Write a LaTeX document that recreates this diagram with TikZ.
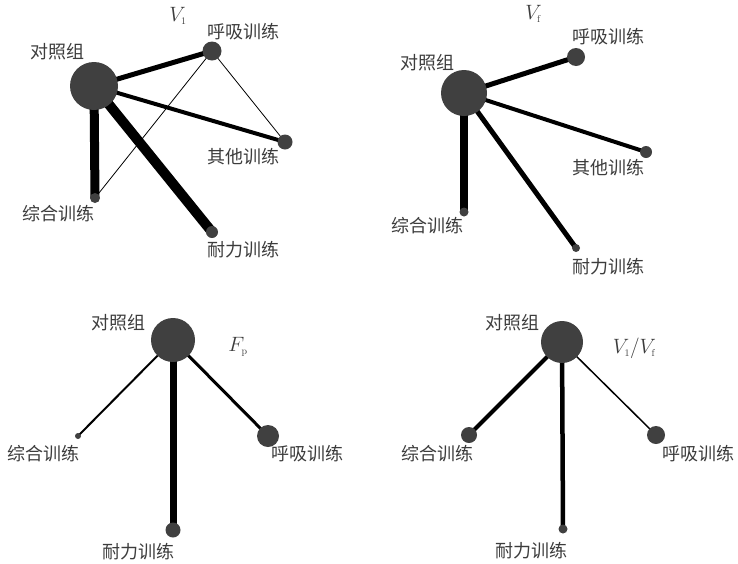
\documentclass[tikz,border=0pt]{standalone}
\usepackage{fontspec}
\newfontfamily\cjk{Noto Sans CJK SC}
\usetikzlibrary{backgrounds}
\definecolor{dot}{RGB}{64,64,64}
\definecolor{ink}{RGB}{60,60,60}
\tikzset{
  trt/.style={circle, fill=dot, draw=none, inner sep=0pt, minimum size=#1},
  lbl/.style={font=\cjk\fontsize{18}{20}\selectfont, text=ink, inner sep=0pt},
  ttl/.style={font=\fontsize{20}{22}\selectfont, text=ink, inner sep=0pt},
  lnk/.style={draw=black, line width=#1}
}
\begin{document}
\begin{tikzpicture}[x=1pt, y=-1pt]
\useasboundingbox (0,0) rectangle (738,563);

% ---- V_1 network ----
\node[trt=48pt] (a0) at (94,86) {};
\node[trt=19pt] (a1) at (212,51) {};
\node[trt=15pt] (a2) at (285,142) {};
\node[trt=10pt] (a3) at (95,198) {};
\node[trt=12pt] (a4) at (212,232) {};
\begin{scope}[on background layer]
  \draw[lnk=5pt] (a0.center) -- (a1.center);
  \draw[lnk=4pt] (a0.center) -- (a2.center);
  \draw[lnk=9pt] (a0.center) -- (a3.center);
  \draw[lnk=10pt] (a0.center) -- (a4.center);
  \draw[lnk=0.8pt] (a1.center) -- (a3.center);
  \draw[lnk=0.8pt] (a1.center) -- (a2.center);
\end{scope}
\node[lbl] (la0) at (57,52) {对照组};
\node[lbl] (la1) at (243,32) {呼吸训练};
\node[lbl] (la2) at (243,157) {其他训练};
\node[lbl] (la3) at (58,214) {综合训练};
\node[lbl] (la4) at (243,250) {耐力训练};
\node[ttl] (ta) at (178,16) {$V_{\scriptscriptstyle 1}$};

% ---- V_f network ----
\node[trt=46pt] (b0) at (464,93) {};
\node[trt=18pt] (b1) at (576,57) {};
\node[trt=12pt] (b2) at (646,152) {};
\node[trt=9pt] (b3) at (464,212) {};
\node[trt=8pt] (b4) at (576,248) {};
\begin{scope}[on background layer]
  \draw[lnk=5pt] (b0.center) -- (b1.center);
  \draw[lnk=4pt] (b0.center) -- (b2.center);
  \draw[lnk=8pt] (b0.center) -- (b3.center);
  \draw[lnk=5pt] (b0.center) -- (b4.center);
\end{scope}
\node[lbl] (lb0) at (427,63) {对照组};
\node[lbl] (lb1) at (608,37) {呼吸训练};
\node[lbl] (lb2) at (608,168) {其他训练};
\node[lbl] (lb3) at (427,226) {综合训练};
\node[lbl] (lb4) at (608,267) {耐力训练};
\node[ttl] (tb) at (533,14) {$V_{\scriptscriptstyle\mathrm{f}}$};

% ---- F_p network ----
\node[trt=44pt] (c0) at (173,340) {};
\node[trt=6pt] (c1) at (78,436) {};
\node[trt=22pt] (c2) at (268,436) {};
\node[trt=15pt] (c3) at (173,530) {};
\begin{scope}[on background layer]
  \draw[lnk=2pt] (c0.center) -- (c1.center);
  \draw[lnk=3pt] (c0.center) -- (c2.center);
  \draw[lnk=7pt] (c0.center) -- (c3.center);
\end{scope}
\node[lbl] (lc0) at (118,323) {对照组};
\node[lbl] (lc1) at (43,454) {综合训练};
\node[lbl] (lc2) at (307,454) {呼吸训练};
\node[lbl] (lc3) at (138,552) {耐力训练};
\node[ttl] (tc) at (238,347) {$F_{\scriptscriptstyle\mathrm{p}}$};

% ---- V_1/V_f network ----
\node[trt=42pt] (d0) at (562,342) {};
\node[trt=16pt] (d1) at (469,435) {};
\node[trt=18pt] (d2) at (656,435) {};
\node[trt=9pt] (d3) at (563,529) {};
\begin{scope}[on background layer]
  \draw[lnk=4pt] (d0.center) -- (d1.center);
  \draw[lnk=1.5pt] (d0.center) -- (d2.center);
  \draw[lnk=4.5pt] (d0.center) -- (d3.center);
\end{scope}
\node[lbl] (ld0) at (512,323) {对照组};
\node[lbl] (ld1) at (437,454) {综合训练};
\node[lbl] (ld2) at (698,454) {呼吸训练};
\node[lbl] (ld3) at (531,551) {耐力训练};
\node[ttl] (td) at (634,348) {$V_{\scriptscriptstyle 1}/V_{\scriptscriptstyle\mathrm{f}}$};
\end{tikzpicture}
\end{document}
